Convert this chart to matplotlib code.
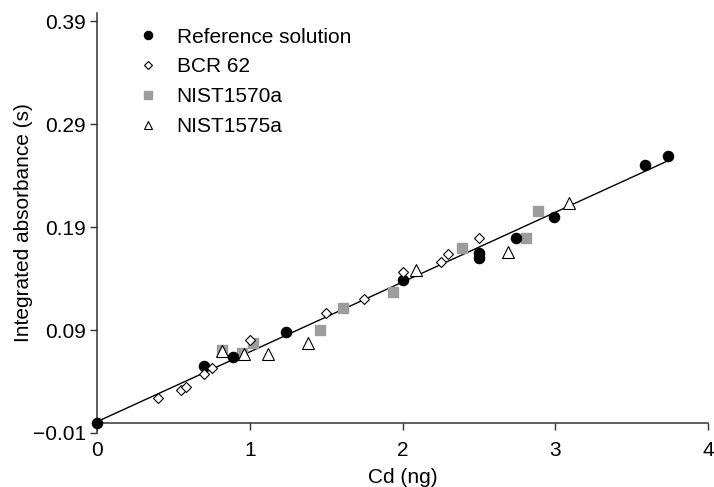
import matplotlib
matplotlib.use("Agg")
import matplotlib.pyplot as plt
import numpy as np

plt.rcParams['font.family'] = ['Liberation Sans', 'DejaVu Sans']

# Data
ref_x = [0.0, 0.70, 0.89, 1.24, 2.0, 2.5, 2.5, 2.74, 2.99, 3.59, 3.74]
ref_y = [0.0, 0.055, 0.064, 0.088, 0.139, 0.165, 0.160, 0.179, 0.200, 0.250, 0.259]

bcr_x = [0.40, 0.55, 0.58, 0.70, 0.75, 1.00, 1.50, 1.75, 2.00, 2.25, 2.30, 2.50]
bcr_y = [0.024, 0.032, 0.035, 0.047, 0.053, 0.080, 0.107, 0.120, 0.146, 0.156, 0.164, 0.179]

n70_x = [0.82, 0.95, 1.02, 1.46, 1.61, 1.94, 2.39, 2.81, 2.89]
n70_y = [0.071, 0.068, 0.077, 0.090, 0.111, 0.127, 0.170, 0.179, 0.206]

n75_x = [0.82, 0.96, 1.12, 1.38, 2.09, 2.69, 3.09]
n75_y = [0.070, 0.067, 0.067, 0.077, 0.148, 0.166, 0.213]

fit_x = [0.0, 3.75]
fit_slope = 0.0678
fit_intercept = 0.001

xticks = [0, 1, 2, 3, 4]
yticks = [-0.01, 0.09, 0.19, 0.29, 0.39]
ytick_labels = ['\u22120.01', '0.09', '0.19', '0.29', '0.39']

fig = plt.figure(figsize=(7.14, 4.87), dpi=100)
ax = fig.add_axes([0.1359, 0.1109, 0.8557, 0.8624])

fx = np.array(fit_x)
ax.plot(fx, fit_slope * fx + fit_intercept, color='black', lw=1.0, zorder=1)

gray = '#9d9d9d'
ax.plot(ref_x, ref_y, 'o', ms=7.3, color='black', mec='black', label='Reference solution',
        clip_on=False, zorder=3)
ax.plot(bcr_x, bcr_y, 'D', ms=5.0, mfc='white', mec='black', mew=0.8, label='BCR 62', zorder=3)
ax.plot(n70_x, n70_y, 's', ms=6.8, color=gray, mec=gray, label='NIST1570a', zorder=2)
ax.plot(n75_x, n75_y, '^', ms=8.0, mfc='white', mec='black', mew=0.8, label='NIST1575a', zorder=4)

ax.set_xlim(0, 4)
ax.set_ylim(-0.01, 0.398)
ax.spines['top'].set_visible(False)
ax.spines['right'].set_visible(False)
ax.spines['bottom'].set_position(('data', 0))
for s in ('left', 'bottom'):
    ax.spines[s].set_linewidth(1.1)
    ax.spines[s].set_color('#333333')

ax.set_xticks(xticks)
ax.set_yticks(yticks)
ax.set_yticklabels(ytick_labels)
ax.tick_params(axis='both', direction='out', length=5, width=1.0, color='#333333',
               labelsize=15, pad=3)
ax.tick_params(axis='x', pad=8)

ax.set_xlabel('Cd (ng)', fontsize=15, labelpad=2)
ax.xaxis.set_label_coords(0.5, -0.083)
ax.set_ylabel('Integrated absorbance (s)', fontsize=15)
ax.yaxis.set_label_coords(-0.105, 0.5)

leg = ax.legend(loc='upper left', bbox_to_anchor=(0.052, 0.985), frameon=False, fontsize=15,
                markerscale=0.8, handlelength=1.0, handletextpad=0.9, labelspacing=0.52,
                borderaxespad=0.0)

fig.savefig('out.png', dpi=100)
